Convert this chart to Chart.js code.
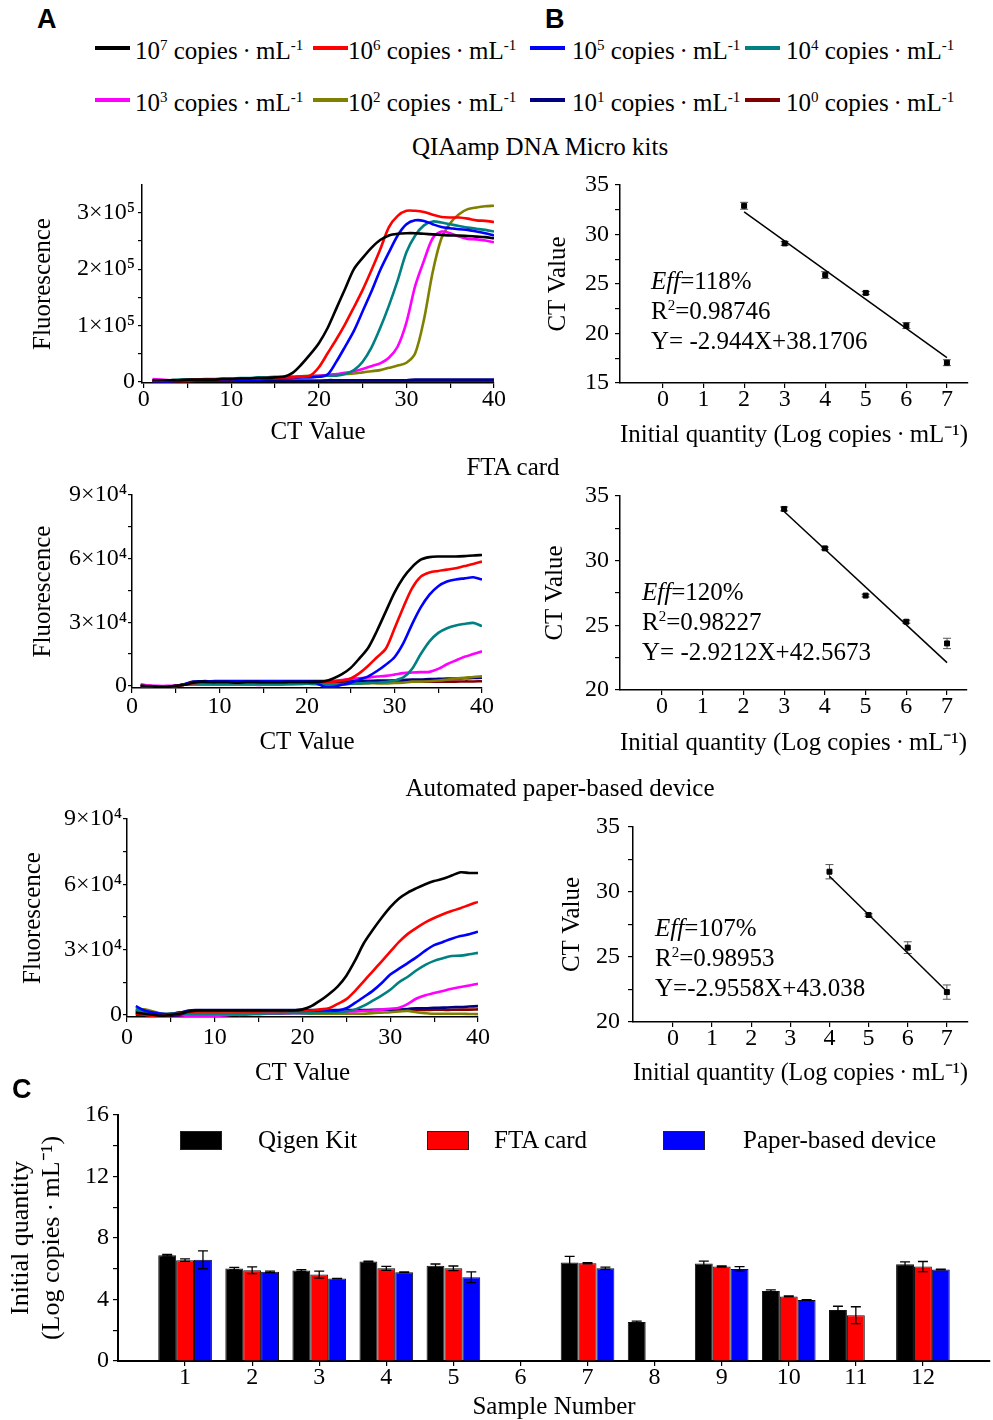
<!DOCTYPE html>
<html>
<head>
<meta charset="utf-8">
<title>Extraction comparison - qPCR</title>
<script src="https://cdn.jsdelivr.net/npm/chart.js@4.4.1/dist/chart.umd.min.js"></script>
<style>
  html, body { margin: 0; padding: 0; background: #fff; }
  body { position: relative; width: 993px; height: 1420px; overflow: hidden;
         font-family: 'Liberation Serif', 'Times New Roman', serif; color: #000; }
  canvas { position: absolute; }
  .txt { position: absolute; white-space: nowrap; font-size: 25px; line-height: 30px; z-index: 2; }
  .mid { transform: translateX(-50%); }
  .letter { position: absolute; font: bold 27px 'Liberation Sans', Arial, sans-serif; z-index: 2; }
  sup { font-size: 0.6em; line-height: 0; vertical-align: 0.6em; }
  .swatch { position: absolute; height: 4px; width: 35px; z-index: 2; }
  .box { position: absolute; width: 42px; height: 19px; border: 1px solid #222; box-sizing: border-box; z-index: 2; }
</style>
</head>
<body>
<div class="letter" style="left:37px;top:4px">A</div>
<div class="letter" style="left:545px;top:4px">B</div>
<div class="letter" style="left:12px;top:1074px">C</div>

<div id="topLegend"></div>

<div class="txt mid" style="left:540px;top:132px">QIAamp DNA Micro kits</div>
<div class="txt mid" style="left:513px;top:452px">FTA card</div>
<div class="txt mid" style="left:560px;top:773px">Automated paper-based device</div>

<div class="txt" style="left:651px;top:266px"><i>Eff</i>=118%<br>R<sup>2</sup>=0.98746<br>Y= -2.944X+38.1706</div>
<div class="txt" style="left:642px;top:577px"><i>Eff</i>=120%<br>R<sup>2</sup>=0.98227<br>Y= -2.9212X+42.5673</div>
<div class="txt" style="left:655px;top:913px"><i>Eff</i>=107%<br>R<sup>2</sup>=0.98953<br>Y=-2.9558X+43.038</div>

<div id="barLegend"></div>

<script>
// ---- data ---------------------------------------------------------------

const CYCLES = [1,2,3,4,5,6,7,8,9,10,11,12,13,14,15,16,17,18,19,20,
                21,22,23,24,25,26,27,28,29,30,31,32,33,34,35,36,37,38,39,40];

// template concentrations (log10 copies/mL), legend order
const SERIES_EXP = [7, 6, 5, 4, 3, 2, 1, 0];
const SERIES_COLORS = ['#000000', '#ff0000', '#0000ff', '#008080', '#ff00ff', '#808000', '#000080', '#800000'];

// QIAamp amplification curves, fluorescence x 10^5
const QIA_E7 = [0.02,0.02,0.02,0.02,0.03,0.03,0.03,0.03,0.04,0.04,0.05,0.05,0.06,0.06,0.07,0.08,0.15,0.30,0.48,0.68,
                0.95,1.30,1.65,2.00,2.20,2.38,2.52,2.60,2.63,2.64,2.64,2.63,2.62,2.61,2.60,2.60,2.59,2.58,2.57,2.55];
const QIA_E6 = [0.01,0.01,0.02,0.02,0.02,0.03,0.03,0.03,0.04,0.04,0.05,0.05,0.05,0.06,0.06,0.07,0.07,0.08,0.10,0.25,
                0.50,0.75,1.02,1.32,1.63,1.98,2.35,2.75,2.95,3.04,3.04,3.02,2.97,2.93,2.92,2.92,2.90,2.87,2.86,2.84];
const QIA_E5 = [0.00,0.00,0.00,0.01,0.01,0.01,0.01,0.01,0.01,0.01,0.02,0.02,0.03,0.04,0.05,0.05,0.06,0.07,0.07,0.08,
                0.12,0.35,0.62,0.90,1.25,1.60,1.98,2.30,2.60,2.80,2.87,2.86,2.80,2.75,2.73,2.71,2.70,2.67,2.64,2.60];
const QIA_E4 = [0.02,0.02,0.02,0.03,0.03,0.03,0.04,0.04,0.05,0.05,0.06,0.06,0.07,0.07,0.08,0.08,0.08,0.09,0.09,0.09,
                0.10,0.10,0.13,0.20,0.35,0.60,0.95,1.35,1.80,2.30,2.60,2.78,2.85,2.83,2.80,2.77,2.74,2.72,2.70,2.67];
const QIA_E3 = [0.04,0.03,0.02,0.02,0.02,0.02,0.02,0.02,0.03,0.03,0.04,0.04,0.05,0.05,0.06,0.07,0.07,0.08,0.09,0.10,
                0.11,0.13,0.15,0.18,0.22,0.27,0.32,0.42,0.62,1.05,1.70,2.15,2.55,2.67,2.64,2.58,2.54,2.53,2.51,2.48];
const QIA_E2 = [0.01,0.01,0.01,0.02,0.02,0.02,0.03,0.03,0.04,0.04,0.05,0.05,0.06,0.06,0.07,0.08,0.08,0.09,0.10,0.10,
                0.11,0.12,0.13,0.14,0.16,0.18,0.20,0.24,0.28,0.33,0.50,1.10,1.95,2.55,2.82,2.98,3.07,3.10,3.12,3.13];
const QIA_E1 = [0.01,0.01,0.01,0.01,0.01,0.01,0.01,0.01,0.01,0.01,0.01,0.01,0.01,0.01,0.01,0.01,0.01,0.01,0.01,0.01,
                0.02,0.02,0.02,0.02,0.02,0.02,0.02,0.02,0.02,0.02,0.03,0.03,0.03,0.03,0.03,0.03,0.03,0.03,0.03,0.03];
const QIA_E0 = [0.00,0.00,0.00,0.00,0.00,0.01,0.01,0.01,0.01,0.01,0.01,0.01,0.01,0.01,0.01,0.01,0.01,0.01,0.01,0.01,
                0.01,0.01,0.01,0.01,0.01,0.01,0.01,0.01,0.01,0.01,0.01,0.01,0.01,0.01,0.01,0.01,0.01,0.01,0.01,0.01];

// FTA card amplification curves, fluorescence x 10^4
const FTA_E7 = [0.00,-0.02,-0.05,-0.05,0.00,0.05,0.15,0.20,0.18,0.18,0.18,0.15,0.18,0.18,0.17,0.17,0.17,0.18,0.18,0.18,
                0.18,0.22,0.35,0.55,0.85,1.30,1.80,2.60,3.50,4.40,5.10,5.60,5.95,6.07,6.10,6.10,6.10,6.12,6.15,6.17];
const FTA_E6 = [0.00,-0.03,-0.05,-0.05,0.00,0.05,0.12,0.15,0.15,0.15,0.15,0.14,0.15,0.15,0.15,0.15,0.15,0.16,0.16,0.16,
                0.17,0.18,0.20,0.25,0.35,0.60,0.95,1.35,1.75,2.70,3.70,4.60,5.15,5.35,5.42,5.48,5.55,5.65,5.75,5.86];
const FTA_E5 = [0.00,-0.03,-0.05,-0.05,0.00,0.08,0.18,0.22,0.22,0.22,0.22,0.22,0.22,0.22,0.22,0.22,0.22,0.22,0.22,0.21,
                0.15,-0.05,-0.05,0.05,0.15,0.30,0.45,0.70,1.00,1.35,2.00,2.90,3.70,4.30,4.70,4.92,5.02,5.07,5.12,5.02];
const FTA_E4 = [0.00,-0.03,-0.05,-0.05,0.00,0.05,0.10,0.10,0.10,0.10,0.10,0.10,0.10,0.10,0.10,0.10,0.10,0.10,0.10,0.10,
                0.10,0.05,0.05,0.08,0.10,0.12,0.14,0.15,0.18,0.25,0.40,0.80,1.50,2.10,2.50,2.72,2.85,2.92,2.97,2.82];
const FTA_E3 = [0.05,0.02,0.00,0.00,0.02,0.05,0.05,0.05,0.05,0.05,0.05,0.05,0.05,0.05,0.05,0.06,0.06,0.07,0.08,0.10,
                0.12,0.15,0.22,0.28,0.33,0.36,0.40,0.44,0.47,0.53,0.60,0.63,0.65,0.66,0.80,1.02,1.20,1.37,1.50,1.63];
const FTA_E2 = [0.05,0.00,-0.05,-0.05,0.00,0.05,0.10,0.10,0.08,0.10,0.12,0.10,0.08,0.10,0.12,0.10,0.08,0.10,0.12,0.10,
                0.08,0.05,0.05,0.08,0.10,0.10,0.12,0.12,0.12,0.14,0.15,0.20,0.20,0.22,0.25,0.30,0.35,0.38,0.42,0.45];
const FTA_E1 = [0.00,-0.03,-0.05,-0.05,0.00,0.08,0.20,0.22,0.22,0.23,0.23,0.23,0.23,0.23,0.23,0.23,0.23,0.23,0.23,0.23,
                0.23,0.23,0.23,0.23,0.24,0.24,0.24,0.25,0.25,0.26,0.28,0.30,0.30,0.32,0.33,0.34,0.35,0.36,0.37,0.38];
const FTA_E0 = [0.05,0.00,-0.08,-0.08,0.00,0.05,0.10,0.12,0.12,0.13,0.14,0.14,0.14,0.15,0.15,0.15,0.15,0.15,0.15,0.15,
                0.16,0.16,0.16,0.17,0.17,0.18,0.18,0.18,0.19,0.20,0.25,0.22,0.20,0.20,0.20,0.20,0.20,0.21,0.21,0.22];

// automated paper-based device amplification curves, fluorescence x 10^4
const PAP_E7 = [0.10,0.05,0.00,-0.05,0.00,0.05,0.15,0.20,0.20,0.20,0.20,0.20,0.20,0.20,0.20,0.20,0.20,0.20,0.20,0.25,
                0.40,0.65,0.95,1.30,1.80,2.50,3.30,3.90,4.45,4.95,5.35,5.62,5.82,6.00,6.15,6.25,6.40,6.55,6.52,6.52];
const PAP_E6 = [0.05,0.00,-0.05,-0.05,0.00,0.05,0.12,0.15,0.15,0.15,0.15,0.15,0.16,0.16,0.16,0.17,0.17,0.17,0.18,0.18,
                0.20,0.25,0.30,0.50,0.72,1.10,1.55,2.00,2.45,2.90,3.35,3.72,4.00,4.25,4.45,4.62,4.77,4.90,5.05,5.19];
const PAP_E5 = [0.40,0.20,0.10,0.05,0.00,0.00,0.15,0.20,0.20,0.20,0.20,0.20,0.20,0.20,0.20,0.20,0.20,0.20,0.20,0.20,
                0.20,0.20,0.20,0.20,0.30,0.55,0.82,1.10,1.45,1.85,2.12,2.38,2.65,2.95,3.20,3.35,3.50,3.62,3.70,3.82];
const PAP_E4 = [0.25,0.15,0.05,0.05,0.05,0.05,0.05,0.05,0.05,0.05,0.05,0.05,0.05,0.05,0.05,0.06,0.06,0.07,0.07,0.08,
                0.08,0.09,0.10,0.12,0.15,0.25,0.42,0.65,0.88,1.15,1.50,1.75,2.05,2.30,2.48,2.60,2.70,2.72,2.78,2.85];
const PAP_E3 = [0.20,0.10,0.00,0.00,0.00,-0.02,-0.05,-0.05,-0.05,-0.05,-0.03,0.00,0.00,0.02,0.03,0.05,0.05,0.06,0.07,0.08,
                0.10,0.11,0.12,0.14,0.15,0.16,0.18,0.20,0.24,0.28,0.32,0.50,0.75,0.90,1.00,1.10,1.20,1.28,1.35,1.43];
const PAP_E2 = [0.25,0.25,0.15,0.05,0.00,0.05,0.05,0.10,0.10,0.08,0.05,0.05,0.08,0.10,0.08,0.05,0.05,0.08,0.10,0.08,
                0.05,0.05,0.05,0.05,0.05,0.05,0.05,0.08,0.10,0.12,0.15,0.18,0.12,0.08,0.05,0.05,0.05,0.05,0.04,0.03];
const PAP_E1 = [0.15,0.10,0.00,0.00,0.05,0.10,0.20,0.22,0.22,0.22,0.22,0.22,0.22,0.22,0.22,0.22,0.22,0.22,0.22,0.22,
                0.22,0.22,0.22,0.22,0.22,0.22,0.22,0.23,0.23,0.24,0.25,0.27,0.30,0.30,0.32,0.33,0.35,0.36,0.38,0.40];
const PAP_E0 = [0.00,0.00,-0.05,0.00,0.05,0.10,0.15,0.18,0.20,0.20,0.20,0.20,0.20,0.20,0.20,0.20,0.20,0.20,0.20,0.20,
                0.20,0.20,0.20,0.20,0.20,0.21,0.21,0.21,0.22,0.22,0.22,0.22,0.22,0.22,0.23,0.23,0.23,0.24,0.24,0.25];

// standard curves: log copies vs CT (mean, sd) + fitted line end points
const QIA_LOG = [2, 3, 4, 5, 6, 7];
const QIA_CT  = [32.9, 29.1, 25.9, 24.1, 20.8, 17.05];
const QIA_SD  = [0.35, 0.2, 0.35, 0.15, 0.3, 0.3];
const QIA_FIT_X = [2, 7];
const QIA_FIT_Y = [32.28, 17.56];

const FTA_LOG = [3, 4, 5, 6, 7];
const FTA_CT  = [34.0, 30.95, 27.3, 25.28, 23.6];
const FTA_SD  = [0.15, 0.1, 0.1, 0.12, 0.4];
const FTA_FIT_X = [3, 7];
const FTA_FIT_Y = [33.8, 22.12];

const PAP_LOG = [4, 5, 6, 7];
const PAP_CT  = [31.56, 28.23, 25.72, 22.3];
const PAP_SD  = [0.55, 0.1, 0.45, 0.55];
const PAP_FIT_X = [4, 7];
const PAP_FIT_Y = [31.21, 22.35];

// panel C: quantification of 12 samples
const SAMPLES = [1, 2, 3, 4, 5, 6, 7, 8, 9, 10, 11, 12];
const BAR_NAMES = ['Qigen Kit', 'FTA card', 'Paper-based device'];
const BAR_COLORS = ['#000000', '#ff0000', '#0000ff'];
const QIGEN     = [6.88, 6.01, 5.88, 6.47, 6.19, null, 6.40, 2.53, 6.34, 4.55, 3.31, 6.30];
const QIGEN_SD  = [0.05, 0.08, 0.06, 0.03, 0.12, 0, 0.40, 0.07, 0.15, 0.07, 0.25, 0.15];
const FTA       = [6.56, 5.90, 5.62, 6.03, 6.03, null, 6.36, null, 6.14, 4.20, 2.98, 6.14];
const FTA_BAR_SD= [0.08, 0.22, 0.22, 0.13, 0.15, 0, 0.04, 0, 0.04, 0.03, 0.55, 0.33];
const PAPER     = [6.58, 5.80, 5.36, 5.77, 5.45, null, 6.03, null, 5.99, 3.97, null, 5.95];
const PAPER_SD  = [0.58, 0.05, 0.02, 0.02, 0.35, 0, 0.07, 0, 0.15, 0.02, 0, 0.02];

// tick values
const CT_TICKS = [0, 5, 10, 15, 20, 25, 30, 35, 40];
const CT_LABELS = [0, 10, 20, 30, 40];
const QIA_F_TICKS = [0, 0.5, 1, 1.5, 2, 2.5, 3];
const QIA_F_LABELS = [0, 1, 2, 3];
const F4_TICKS = [0, 1.5, 3, 4.5, 6, 7.5, 9];
const F4_LABELS = [0, 3, 6, 9];
const LOG_TICKS = [0, 1, 2, 3, 4, 5, 6, 7];
const QIA_CT_TICKS = [15, 17.5, 20, 22.5, 25, 27.5, 30, 32.5, 35];
const QIA_CT_LABELS = [15, 20, 25, 30, 35];
const CT20_TICKS = [20, 22.5, 25, 27.5, 30, 32.5, 35];
const CT20_LABELS = [20, 25, 30, 35];
const C_Y_TICKS = [0, 2, 4, 6, 8, 10, 12, 14, 16];
const C_Y_LABELS = [0, 4, 8, 12, 16];

// ---- html legends ---------------------------------------------------------

(function topLegend() {
  const host = document.getElementById('topLegend');
  const lineX = [95, 313, 530, 745], textX = [135, 348, 572, 786], rowY = [48, 100];
  SERIES_EXP.forEach((e, i) => {
    const r = Math.floor(i / 4), c = i % 4;
    const sw = document.createElement('div');
    sw.className = 'swatch';
    sw.style.cssText = `left:${lineX[c]}px;top:${rowY[r] - 2}px;background:${SERIES_COLORS[i]}`;
    host.appendChild(sw);
    const t = document.createElement('div');
    t.className = 'txt';
    t.style.cssText = `left:${textX[c]}px;top:${rowY[r] - 12}px`;
    t.innerHTML = `10<sup>${e}</sup> copies\u2009\u00B7\u2009mL<sup>-1</sup>`;
    host.appendChild(t);
  });
})();

(function barLegend() {
  const host = document.getElementById('barLegend');
  const boxX = [180, 427, 663], textX = [258, 494, 743];
  BAR_NAMES.forEach((n, i) => {
    const b = document.createElement('div');
    b.className = 'box';
    b.style.cssText = `left:${boxX[i]}px;top:1131px;background:${BAR_COLORS[i]}`;
    host.appendChild(b);
    const t = document.createElement('div');
    t.className = 'txt';
    t.style.cssText = `left:${textX[i]}px;top:1125px`;
    t.textContent = n;
    host.appendChild(t);
  });
})();

// ---- chart helpers --------------------------------------------------------

const SERIF = "'Liberation Serif', 'Times New Roman', serif";
Chart.defaults.font.family = SERIF;
Chart.defaults.color = '#000';

function drawErrors(chart, opts) {
  const ctx = chart.ctx, ys = chart.scales.y, cap = opts.cap || 4;
  ctx.save();
  ctx.strokeStyle = opts.color || '#000';
  ctx.lineWidth = opts.width || 1.2;
  chart.data.datasets.forEach((ds, di) => {
    if (!ds.errors) return;
    chart.getDatasetMeta(di).data.forEach((el, i) => {
      const p = ds.data[i], e = ds.errors[i];
      if (!p || p.y == null || !e) return;
      const t = ys.getPixelForValue(p.y + e), b = ys.getPixelForValue(p.y - e);
      ctx.beginPath();
      ctx.moveTo(el.x, t); ctx.lineTo(el.x, b);
      ctx.moveTo(el.x - cap, t); ctx.lineTo(el.x + cap, t);
      ctx.moveTo(el.x - cap, b); ctx.lineTo(el.x + cap, b);
      ctx.stroke();
    });
  });
  ctx.restore();
}

const errorBars = {
  id: 'errorBars',
  beforeDatasetsDraw(chart, args, opts) { if (opts.behind) drawErrors(chart, opts); },
  afterDatasetsDraw(chart, args, opts) { if (!opts.behind) drawErrors(chart, opts); }
};

function makeCanvas(id, b) {
  const c = document.createElement('canvas');
  c.id = id; c.width = b.w; c.height = b.h;
  c.style.cssText = `left:${b.left}px;top:${b.top}px;width:${b.w}px;height:${b.h}px`;
  document.body.appendChild(c);
  return c.getContext('2d');
}

// fixed-size linear axis, outward ticks, explicit tick list
function axis(o) {
  const horiz = o.position === 'bottom';
  return {
    type: 'linear', position: o.position, min: o.min, max: o.max, offset: false,
    border: { color: '#000', width: o.border || 1.5 },
    grid: { drawOnChartArea: false, offset: false, tickLength: o.tick || 5, color: '#000', lineWidth: 1.2 },
    ticks: {
      autoSkip: false, maxRotation: 0, minRotation: 0, padding: o.pad, color: '#000',
      font: { family: SERIF, size: o.font || 24, lineHeight: 1 },
      callback: v => (o.labels.includes(v) ? o.fmt(v) : '')
    },
    afterBuildTicks: s => { s.ticks = o.ticks.map(v => ({ value: v })); },
    afterFit: s => { if (horiz) s.height = o.size; else s.width = o.size; },
    title: {
      display: true, text: o.title, color: '#000',
      font: Object.assign({ family: SERIF, size: 25, lineHeight: 1.2 }, o.titleFont || {}),
      padding: horiz ? { top: 0, bottom: o.titlePad } : { top: o.titlePad, bottom: 0 }
    }
  };
}

const sci = p => v => (v === 0 ? '0' : v + '\u00D710' + p);

function ampChart(id, box, series, yAx, xPad) {
  return new Chart(makeCanvas(id, box), {
    type: 'line',
    data: {
      datasets: series.map((vals, i) => ({
        data: vals.map((v, j) => ({ x: CYCLES[j], y: v })),
        borderColor: SERIES_COLORS[i], borderWidth: 2.6, pointRadius: 0, tension: 0.3, fill: false
      }))
    },
    options: {
      responsive: false, animation: false, devicePixelRatio: 1,
      layout: { padding: box.pad },
      plugins: { legend: { display: false }, tooltip: { enabled: false } },
      scales: {
        x: axis({ position: 'bottom', min: box.xMin, max: 40, ticks: CT_TICKS, labels: CT_LABELS,
                  fmt: String, size: box.xSize, pad: xPad, title: 'CT Value', titlePad: 8 }),
        y: yAx
      }
    }
  });
}

function stdChart(id, box, xs, ct, sd, fx, fy, yAx) {
  return new Chart(makeCanvas(id, box), {
    type: 'scatter',
    data: {
      datasets: [
        { type: 'line', data: fx.map((v, i) => ({ x: v, y: fy[i] })), borderColor: '#000',
          borderWidth: 1.5, pointRadius: 0, showLine: true, fill: false },
        { data: xs.map((v, i) => ({ x: v, y: ct[i] })), errors: sd, pointStyle: 'rect',
          pointRadius: 3.5, backgroundColor: '#000', borderColor: '#000' }
      ]
    },
    plugins: [errorBars],
    options: {
      responsive: false, animation: false, devicePixelRatio: 1,
      layout: { padding: box.pad },
      plugins: { legend: { display: false }, tooltip: { enabled: false },
                 errorBars: { behind: true, color: '#555', cap: 4, width: 1 } },
      scales: {
        x: axis({ position: 'bottom', min: box.xMin, max: box.xMax, ticks: LOG_TICKS, labels: LOG_TICKS,
                  fmt: String, size: box.xSize, pad: 0, title: 'Initial quantity (Log copies\u2009\u00B7\u2009mL\u207B\u00B9)',
                  titlePad: box.titlePad }),
        y: yAx
      }
    }
  });
}

// ---- panel A: amplification curves ----------------------------------------

ampChart('qiaAmp', { left: 10, top: 165, w: 500, h: 290, xMin: -0.2, xSize: 72,
                     pad: { left: 0, right: 16, top: 20, bottom: 0 } },
  [QIA_E7, QIA_E6, QIA_E5, QIA_E4, QIA_E3, QIA_E2, QIA_E1, QIA_E0],
  axis({ position: 'left', min: -0.03, max: 3.5, ticks: QIA_F_TICKS, labels: QIA_F_LABELS, fmt: sci('\u2075'),
         size: 132, tick: 4, pad: 3, title: 'Fluorescence', titlePad: 18 }), 0);

ampChart('ftaAmp', { left: 10, top: 470, w: 500, h: 295, xMin: 0, xSize: 77,
                     pad: { left: 0, right: 28, top: 25, bottom: 0 } },
  [FTA_E7, FTA_E6, FTA_E5, FTA_E4, FTA_E3, FTA_E2, FTA_E1, FTA_E0],
  axis({ position: 'left', min: -0.1, max: 9, ticks: F4_TICKS, labels: F4_LABELS, fmt: sci('\u2074'),
         size: 122, tick: 4, pad: 1, title: 'Fluorescence', titlePad: 18 }), 2);

ampChart('papAmp', { left: 0, top: 795, w: 510, h: 301, xMin: 0, xSize: 79,
                     pad: { left: 0, right: 32, top: 24, bottom: 0 } },
  [PAP_E7, PAP_E6, PAP_E5, PAP_E4, PAP_E3, PAP_E2, PAP_E1, PAP_E0],
  axis({ position: 'left', min: -0.1, max: 9, ticks: F4_TICKS, labels: F4_LABELS, fmt: sci('\u2074'),
         size: 127, tick: 4, pad: 1, title: 'Fluorescence', titlePad: 18 }), 4);

// ---- panel B: standard curves ---------------------------------------------

stdChart('qiaStd', { left: 525, top: 165, w: 465, h: 293, xMin: -1.06, xMax: 7.52, xSize: 75, titlePad: 8,
                     pad: { left: 0, right: 22, top: 20, bottom: 0 } },
  QIA_LOG, QIA_CT, QIA_SD, QIA_FIT_X, QIA_FIT_Y,
  axis({ position: 'left', min: 15, max: 35, ticks: QIA_CT_TICKS, labels: QIA_CT_LABELS, fmt: String,
         size: 95, pad: 6, title: 'CT Value', titlePad: 18 }));

stdChart('ftaStd', { left: 522, top: 470, w: 468, h: 296, xMin: -1.03, xMax: 7.49, xSize: 76, titlePad: 8,
                     pad: { left: 0, right: 23, top: 26, bottom: 0 } },
  FTA_LOG, FTA_CT, FTA_SD, FTA_FIT_X, FTA_FIT_Y,
  axis({ position: 'left', min: 20, max: 35, ticks: CT20_TICKS, labels: CT20_LABELS, fmt: String,
         size: 98, pad: 6, title: 'CT Value', titlePad: 18 }));

stdChart('papStd', { left: 539, top: 800, w: 451, h: 296, xMin: -1.02, xMax: 7.54, xSize: 74, titlePad: 8,
                     pad: { left: 0, right: 22, top: 27, bottom: 0 } },
  PAP_LOG, PAP_CT, PAP_SD, PAP_FIT_X, PAP_FIT_Y,
  axis({ position: 'left', min: 20, max: 35, ticks: CT20_TICKS, labels: CT20_LABELS, fmt: String,
         size: 94, pad: 8, title: 'CT Value', titlePad: 18 }));

// ---- panel C: sample quantification ---------------------------------------

const barValues = [QIGEN, FTA, PAPER];
const barErrors = [QIGEN_SD, FTA_BAR_SD, PAPER_SD];

new Chart(makeCanvas('samples', { left: 0, top: 1095, w: 993, h: 325 }), {
  type: 'bar',
  data: {
    datasets: BAR_NAMES.map((n, k) => ({
      label: n,
      data: barValues[k].map((v, i) => ({ x: SAMPLES[i], y: v })),
      errors: barErrors[k],
      backgroundColor: BAR_COLORS[k], borderColor: '#111', borderWidth: 1,
      categoryPercentage: 0.8, barPercentage: 1.0
    }))
  },
  plugins: [errorBars],
  options: {
    responsive: false, animation: false, devicePixelRatio: 1,
    layout: { padding: { left: 0, right: 3, top: 20, bottom: 0 } },
    plugins: { legend: { display: false }, tooltip: { enabled: false },
               errorBars: { behind: false, color: '#000', cap: 5, width: 1.3 } },
    scales: {
      x: axis({ position: 'bottom', min: 0, max: 13, ticks: SAMPLES, labels: SAMPLES, fmt: String,
                size: 59, pad: 0, border: 2, title: 'Sample Number', titleFont: { size: 25, lineHeight: 1 }, titlePad: 0.5 }),
      y: axis({ position: 'left', min: 0, max: 16, ticks: C_Y_TICKS, labels: C_Y_LABELS, fmt: String,
                size: 118, pad: 4, border: 2, title: ['Initial quantity', '(Log copies\u2009\u00B7\u2009mL\u207B\u00B9)'],
                titleFont: { size: 26, lineHeight: 31 / 26 }, titlePad: 6 })
    }
  }
});
</script>
</body>
</html>
